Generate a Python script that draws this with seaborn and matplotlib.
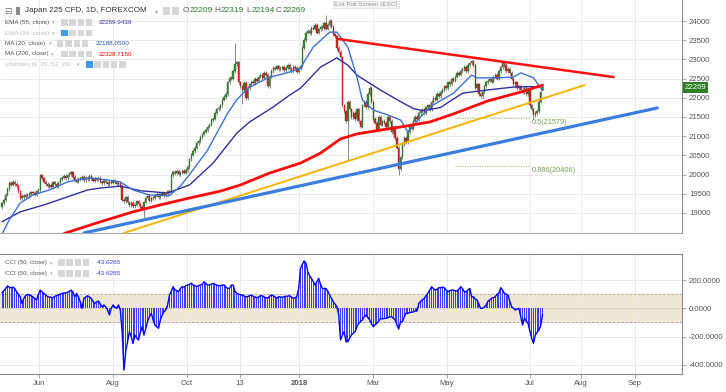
import numpy as np
import pandas as pd
import matplotlib
matplotlib.use("Agg")
import matplotlib.pyplot as plt
from matplotlib.patches import Rectangle
import seaborn as sns

# ---------------- data ----------------
closes = [
    19250, 19350, 19480, 19620, 19780, 19740, 19820, 19760, 19700, 19560, 19380, 19450, 19420, 19480, 19430, 19500, 19540, 19520, 19480, 19560, 19600, 19980,
    19900, 19820, 19760, 19700, 19740, 19680, 19800, 19760, 19700, 19780, 19880, 19920, 19960, 19900, 19980, 20020, 20060, 19940, 19860, 19820, 19880, 19900,
    19940, 19860, 19920, 19880, 19960, 19900, 19840, 19900, 19870, 19920, 19820, 19780, 19840, 19800, 19760, 19820, 19790, 19830,
    19800, 19760, 19790, 19700, 19350, 19300, 19420, 19280, 19200, 19260, 19180, 19220, 19300, 19240, 19160, 19100, 19280, 19390, 19450,
    19320, 19400, 19380, 19450, 19500, 19420, 19480, 19520, 19460, 19500, 19560, 19540, 19980, 20080, 20040, 20100, 20020, 20060, 20090, 20050, 20120, 20200, 20400,
    20520, 20620, 20700, 20820, 20880, 20980, 21050, 21120, 21160, 21250, 21300, 21420, 21460, 21600, 21700, 21740, 21800, 21950, 22020, 22100, 22400, 22520, 22500, 22700, 22880, 22920, 22400,
    22300, 22200, 22380, 22000, 22250, 22350, 22420, 22380, 22500, 22450, 22550, 22600, 22520, 22650, 22600, 22300, 22550, 22700, 22780, 22760, 22820, 22740, 22780, 22800, 22720, 22780, 22850, 22760, 22700, 22800, 22780, 22680, 22760, 22820,
    23300, 23500, 23700, 23750, 23680, 23820, 23800, 23900, 23700, 23780, 23850, 23820, 23950, 23800, 23900, 24000, 23850, 23650, 23600, 23300, 23200, 23050,
    21800, 21650, 21400, 21900, 21700, 21500, 21600, 21450, 21700, 21400, 21250, 21800, 21900, 21750, 22100, 22250, 21900, 21450, 21350, 21150, 21500, 21300, 21400, 21350, 21250, 21500, 21400, 21100, 21250, 20950, 20700, 20150,
    20450, 20800, 20950, 20850, 21100, 21300, 21200, 21400, 21500, 21450, 21600, 21650, 21700, 21600, 21750, 21800, 21700, 21900, 22000, 21950, 22100, 22050, 22150,
    22200, 22300, 22250, 22400, 22350, 22500, 22450, 22550, 22650, 22600, 22700, 22750, 22800, 22700, 22850, 22900, 22950, 22850, 22250, 22350, 22100, 22050,
    22150, 22300, 22400, 22450, 22500, 22420, 22550, 22600, 22500, 22700, 22800, 22900, 22850, 22700, 22750, 22650, 22500, 22350, 22400, 22250, 22300, 22200,
    22150, 22250, 22100, 22200, 21800, 21700, 21550, 21600, 21650, 21900, 22150, 22269,
]
first_open = 19150
last_ohlc = [22209, 22319, 22194, 22269]          # O H L C of the last bar
hi_idx = [128, 178]
hi_val = [23430, 24150]
lo_idx = [78, 132, 190, 218, 292]
lo_val = [18870, 21840, 20380, 19990, 21420]

ma200_idx = [21, 35, 54, 72, 87, 103, 120, 131, 147, 164, 175, 186, 195, 208, 219, 235, 248, 267, 285, 297]
ma200_val = [18170, 18480, 18770, 19030, 19210, 19390, 19570, 19730, 20040, 20300, 20560, 20930, 21060, 21160, 21240, 21370, 21580, 21920, 22150, 22330]

ma20_idx = [0, 4, 10, 17, 26, 36, 47, 58, 65, 72, 81, 92, 98, 103, 113, 118, 124, 129, 135, 146, 158, 164, 171, 180, 184, 190, 195, 198, 204, 212, 219, 223, 230, 235, 248, 258, 261, 272, 281, 285, 292, 297]
ma20_val = [18450, 18820, 19260, 19470, 19600, 19810, 19910, 19860, 19810, 19600, 19470, 19450, 19700, 20000, 20640, 21080, 21600, 21950, 22250, 22520, 22670, 22780, 23320, 23710, 23710, 23320, 22540, 21940, 21680, 21550, 21420, 21110, 21500, 21760, 22120, 22590, 22520, 22520, 22540, 22650, 22520, 22188]

ema55_idx = [0, 10, 23, 36, 47, 54, 65, 76, 91, 103, 116, 129, 136, 149, 158, 164, 175, 184, 190, 195, 201, 208, 219, 226, 232, 241, 253, 266, 281, 290, 297]
ema55_val = [18770, 19030, 19210, 19420, 19600, 19650, 19700, 19580, 19520, 19730, 20300, 21080, 21370, 21760, 22070, 22250, 22800, 23040, 22850, 22590, 22410, 22200, 21900, 21720, 21660, 21750, 22120, 22200, 22280, 22290, 22290]

red_line_x, red_line_y = [185, 336], [23530, 22540]
orange_line_x, orange_line_y = [67, 320], [18480, 22330]
blue_line_x, blue_line_y = [45, 360], [18480, 21735]

fib_levels = [21480, 20230]
fib_labels = ["0.5(21579)", "0.886(20406)"]

cci = [
    110, 125, 140, 158, 150, 145, 150, 140, 117, 100,
    82, 35, 70, 90, 99, 95, 89, 80, 70, 59,
    100, 129, 117, 105, 95, 82, 80, 78, 75, 85,
    90, 94, 100, 106, 108, 110, 113, 120, 129, 115,
    82, 106, 80, 47, 0, 71, 80, 89, 80, 71,
    50, 35, 45, 52, 30, 12, 24, 10, -12, -47,
    0, 24, 10, 0, 24, -12, -165, -436, -300, -236,
    -165, -200, -248, -189, -210, -224, -170, -130, -189, -140,
    -94, -60, -35, -80, -118, -130, -141, -82, -50, -24,
    -12, 24, 94, 120, 153, 130, 125, 117, 140, 153,
    150, 160, 165, 170, 177, 165, 160, 153, 160, 165,
    170, 188, 175, 165, 165, 170, 177, 170, 165, 160,
    160, 165, 165, 150, 141, 141, 165, 165, 120, 106,
    100, 97, 94, 88, 82, 82, 90, 94, 85, 80,
    75, 80, 89, 89, 80, 75, 71, 85, 94, 90,
    80, 71, 82, 80, 78, 82, 85, 86, 89, 80,
    71, 75, 82, 141, 283, 310, 335, 320, 259, 230,
    212, 190, 165, 190, 212, 170, 141, 140, 141, 120,
    94, 70, 47, 30, 12, -47, -224, -190, -165, -236,
    -236, -210, -189, -175, -165, -130, -106, -95, -82, -60,
    -47, -65, -82, -110, -130, -115, -106, -90, -71, -75,
    -71, -71, -65, -60, -59, -70, -82, -120, -146, -94,
    -94, -60, -35, -35, -30, -28, -25, -19, -19, 35,
    50, 60, 71, 90, 106, 130, 153, 140, 129, 135,
    146, 146, 150, 146, 130, 117, 125, 129, 129, 125,
    122, 135, 153, 140, 117, 117, 130, 141, 82, 82,
    65, 59, 30, 0, 0, 10, 24, 50, 60, 71,
    76, 82, 100, 106, 146, 130, 106, 100, 94, 50,
    12, 0, -12, -5, 0, -60, -118, -71, -90, -106,
    -160, -212, -248, -189, -170, -153, -120, -43.6265,
]

price_ticks = [19000, 19500, 20000, 20500, 21000, 21500, 22000, 22500, 23000, 23500, 24000]
cci_ticks = [200, 0, -200, -400]
cci_tick_labels = ["200.0000", "0.0000", "-200.0000", "-400.0000"]
date_labels = ["Jun", "Aug", "Oct", "13", "2018", "Mar", "May", "Jul", "Aug", "Sep"]
date_pos = [20.3, 61.0, 101.6, 130.8, 163.2, 203.8, 244.5, 290.1, 318.0, 347.8]

title = "Japan 225 CFD, 1D, FOREXCOM"
ind_labels = ["EMA (55, close)", "EMA (34, close)", "MA (20, close)", "MA (200, close)", "Ichimoku (9, 26, 52, 26)"]
ind_values = ["22289.9439", "", "22188.0500", "22328.7150", ""]
cci_label = "CCI (50, close)"
cci_value = "-43.6265"

# ---------------- styling ----------------
sns.set_theme(style="white")
plt.rcParams['font.family'] = ['Liberation Sans', 'DejaVu Sans']

W, H = 726, 392
fig = plt.figure(figsize=(W / 100, H / 100), dpi=100)
fig.patch.set_facecolor("white")

def fy(y):
    return 1 - y / H

ax = fig.add_axes([0, fy(233), 682 / W, 233 / H])
ax2 = fig.add_axes([0, fy(374), 682 / W, 120 / H])

XL = (-1.1, 373.6)
GRID = "#ebebeb"

# ---------------- candles ----------------
n = len(closes)
idx = np.arange(n)
c = np.array(closes, dtype=float)
o = np.r_[first_open, c[:-1]]
o[-1] = last_ohlc[0]
hi = np.maximum(o, c) + 45
lo = np.minimum(o, c) - 45
hi[-1], lo[-1] = last_ohlc[1], last_ohlc[2]
hi[hi_idx] = hi_val
lo[lo_idx] = lo_val
up = c >= o
bottom = np.minimum(o, c)
height = np.maximum(np.abs(c - o), 18)

ax.vlines(idx, lo, hi, color="#777777", lw=0.6, zorder=3)
ax.bar(idx[up], height[up], bottom=bottom[up], width=0.75, color="#3a8a35",
       edgecolor="#2c6a28", linewidth=0.3, zorder=4)
ax.bar(idx[~up], height[~up], bottom=bottom[~up], width=0.75, color="#cc2a25",
       edgecolor="#9a1c18", linewidth=0.3, zorder=4)

# ---------------- moving averages & trend lines ----------------
sns.lineplot(x=ema55_idx, y=ema55_val, ax=ax, color="#2f2f9e", lw=1.0, zorder=5)
sns.lineplot(x=ma20_idx, y=ma20_val, ax=ax, color="#3f6fd2", lw=1.0, zorder=5)
sns.lineplot(x=ma200_idx, y=ma200_val, ax=ax, color="#ff0a0a", lw=2.0, zorder=6)
sns.lineplot(x=red_line_x, y=red_line_y, ax=ax, color="#ff1010", lw=1.8, zorder=6)
sns.lineplot(x=orange_line_x, y=orange_line_y, ax=ax, color="#f5b400", lw=1.4, zorder=6)
sns.lineplot(x=blue_line_x, y=blue_line_y, ax=ax, color="#3b7ddd", lw=2.3, zorder=6)

for lvl, lab in zip(fib_levels, fib_labels):
    ax.hlines(lvl, 249, 289.5, color="#8cba6c", lw=0.7, linestyles=(0, (1, 1.5)), zorder=5)
    ax.text(291, lvl - 40, lab, fontsize=5.3, color="#6e9e4c", va="top", ha="left", zorder=7)

ax.set_xlim(*XL)
ax.set_ylim(18479, 24547)
ax.set_yticks(price_ticks)
ax.set_yticklabels([str(t) for t in price_ticks])
ax.set_xticks(date_pos)
ax.grid(True, color=GRID, lw=0.7)
ax.set_axisbelow(True)
ax.yaxis.tick_right()
ax.tick_params(axis="y", labelsize=5.6, labelcolor="#555555", color="#999999", length=3, width=0.6, pad=2, right=True, left=False)
ax.tick_params(axis="x", length=0, labelbottom=False)
for s in ["left", "top"]:
    ax.spines[s].set_visible(False)
ax.spines["right"].set_color("#8a8a8a")
ax.spines["right"].set_linewidth(0.8)
ax.spines["bottom"].set_color("#aaaaaa")
ax.spines["bottom"].set_linewidth(0.8)
ax.set_xlabel("")
ax.set_ylabel("")

# last price tag
ax.text(1.004, closes[-1], str(closes[-1]), transform=ax.get_yaxis_transform(), fontsize=5.6,
        color="white", va="center", ha="left", zorder=10, clip_on=False,
        bbox=dict(facecolor="#2f7d24", edgecolor="none", pad=1.2))

# ---------------- CCI panel ----------------
ci = np.arange(len(cci))
ax2.axhspan(-100, 100, color="#efe6d6", zorder=0)
ax2.axhline(100, color="#a8a8a8", lw=0.6, ls=(0, (3, 2)), zorder=1)
ax2.axhline(-100, color="#a8a8a8", lw=0.6, ls=(0, (3, 2)), zorder=1)
ax2.axhline(0, color="#d8ccb6", lw=0.6, zorder=1)
ax2.bar(ci, cci, width=0.55, color="#3d3dff", linewidth=0, zorder=2)
sns.lineplot(x=ci, y=cci, ax=ax2, color="#0000ff", lw=1.0, zorder=3)
ax2.set_xlim(*XL)
ax2.set_ylim(-464, 384)
ax2.set_yticks(cci_ticks)
ax2.set_yticklabels(cci_tick_labels)
ax2.set_xticks(date_pos)
ax2.set_xticklabels(date_labels)
for t in ax2.get_xticklabels():
    if t.get_text() == "2018":
        t.set_fontweight("bold")
ax2.grid(True, color=GRID, lw=0.7)
ax2.set_axisbelow(True)
ax2.yaxis.tick_right()
ax2.tick_params(axis="y", labelsize=5.6, labelcolor="#555555", color="#999999", length=3, width=0.6, pad=2, right=True, left=False)
ax2.tick_params(axis="x", labelsize=5.6, labelcolor="#555555", color="#999999", length=3, width=0.6, pad=1.5, bottom=True)
ax2.spines["left"].set_visible(False)
for s in ["right", "top", "bottom"]:
    ax2.spines[s].set_color("#8a8a8a")
    ax2.spines[s].set_linewidth(0.8)
ax2.set_xlabel("")
ax2.set_ylabel("")

# ---------------- header / legends ----------------
def ftext(x, y, s, **kw):
    fig.text(x / W, fy(y), s, va="center", ha="left", **kw)

def icon(x, y, col="#d6d6d6", w=6.5, h=6.5):
    fig.add_artist(Rectangle((x / W, fy(y + h / 2)), w / W, h / H, transform=fig.transFigure,
                             facecolor=col, edgecolor="none", zorder=20))

ftext(4, 11, "\u229f", fontsize=6.5, color="#777777")
icon(16, 11, col="#8a8a8a", w=4, h=7)
ftext(25, 11, title, fontsize=5.8, color="#333333")
ftext(155, 11.5, "\u25be", fontsize=4.5, color="#999999")
icon(163, 11, w=7, h=7)
icon(172, 11, w=7, h=7)
ohlc_letters = ["O", "H", "L", "C"]
ohlc_x = [183, 214, 246, 276]
ohlc_off = [6.5, 6.5, 5.5, 6.5]
for L, xx, off, v in zip(ohlc_letters, ohlc_x, ohlc_off, last_ohlc):
    ftext(xx, 11, L, fontsize=6.0, color="#555555")
    ftext(xx + off, 11, str(v), fontsize=6.0, color="#2b7a2b")

ind_y = [22.5, 33, 43.5, 54, 64.5]
ind_hidden = [False, True, False, False, True]
ind_val_colors = ["#3535a8", "#3535a8", "#2c55b8", "#ff0000", "#888888"]
ind_arrow_x = [52, 52, 49, 51, 77]
ind_icon_x = [61, 61, 57, 61, 86]
ind_n_icons = [4, 4, 4, 4, 5]
ind_val_x = [99, 99, 96, 99, 99]
for lab, val, yy, hid, vc, axx, icx, nic, vx in zip(ind_labels, ind_values, ind_y, ind_hidden,
                                                   ind_val_colors, ind_arrow_x, ind_icon_x,
                                                   ind_n_icons, ind_val_x):
    tc = "#bdbdbd" if hid else "#555555"
    ftext(5, yy, lab, fontsize=4.5, color=tc)
    ftext(axx, yy + 0.5, "\u25be", fontsize=3.6, color="#aaaaaa")
    for k in range(nic):
        col = "#3d9be9" if (hid and k == 0) else "#d6d6d6"
        icon(icx + 8.3 * k, yy, col=col)
    if val:
        ftext(vx, yy, val, fontsize=4.6, color=vc)

for yy in [262.7, 273.3]:
    ftext(5, yy, cci_label, fontsize=4.5, color="#555555")
    ftext(50, yy + 0.5, "\u25be", fontsize=3.6, color="#aaaaaa")
    for k in range(4):
        icon(58 + 8.3 * k, yy)
    ftext(96, yy, cci_value, fontsize=4.6, color="#3b3bf5")

fig.text(366 / W, fy(4.5), "Exit Full Screen (ESC)", fontsize=4.6, color="#9a9a9a",
         ha="center", va="center",
         bbox=dict(facecolor="#f4f4f4", edgecolor="#dddddd", pad=1.0, lw=0.5))

fig.savefig("out.png", dpi=100, facecolor="white")
